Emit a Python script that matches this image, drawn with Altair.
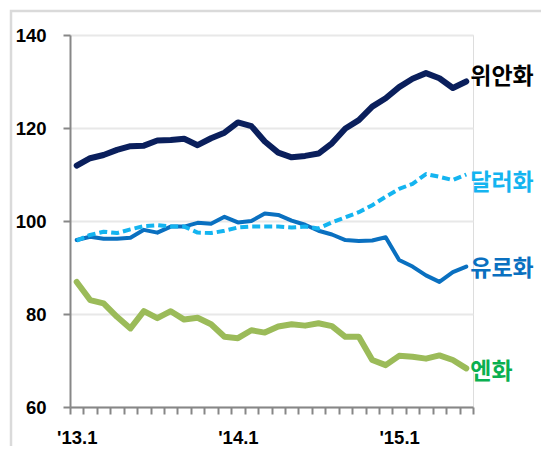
import altair as alt
import pandas as pd

months = ["'13.1", "'13.2", "'13.3", "'13.4", "'13.5", "'13.6", "'13.7", "'13.8", "'13.9", "'13.10", "'13.11", "'13.12",
          "'14.1", "'14.2", "'14.3", "'14.4", "'14.5", "'14.6", "'14.7", "'14.8", "'14.9", "'14.10", "'14.11", "'14.12",
          "'15.1", "'15.2", "'15.3", "'15.4", "'15.5", "'15.6"]

cny = [111.9, 113.5, 114.2, 115.3, 116.1, 116.2, 117.3, 117.4, 117.7, 116.3, 117.8, 119.0,
       121.2, 120.4, 117.1, 114.7, 113.7, 114.0, 114.5, 116.7, 119.9, 121.7, 124.6, 126.4,
       128.8, 130.6, 131.8, 130.7, 128.6, 130.0]
usd = [95.8, 97.0, 97.7, 97.4, 98.2, 98.9, 99.1, 98.8, 98.8, 97.5, 97.4, 97.9,
       98.6, 98.8, 98.8, 98.8, 98.6, 98.8, 98.4, 99.7, 100.8, 101.9, 103.4, 105.2,
       106.9, 108.0, 110.1, 109.5, 108.8, 110.0]
eur = [95.9, 96.6, 96.2, 96.2, 96.4, 98.1, 97.5, 98.8, 98.8, 99.6, 99.4, 100.9,
       99.7, 100.0, 101.6, 101.3, 100.1, 99.2, 97.9, 97.1, 95.9, 95.7, 95.8, 96.5,
       91.6, 90.2, 88.3, 86.9, 89.0, 90.2]
jpy = [86.9, 83.0, 82.3, 79.4, 76.9, 80.6, 79.1, 80.6, 78.8, 79.2, 77.8, 75.1,
       74.8, 76.5, 76.0, 77.3, 77.8, 77.5, 78.0, 77.4, 75.1, 75.1, 70.1, 69.0,
       71.0, 70.8, 70.4, 71.1, 70.1, 68.3]

names = ["위안화", "달러화", "유로화", "엔화"]
values = [cny, usd, eur, jpy]

df = pd.DataFrame({
    "month": months * 4,
    "series": [n for n in names for _ in months],
    "value": [v for s in values for v in s],
})

NUM_FONT = "Liberation Sans, Arial, sans-serif"
KR_FONT = "Noto Sans CJK KR"

x_enc = alt.X(
    "month:O", sort=months,
    scale=alt.Scale(type="band", paddingInner=0, paddingOuter=0),
    axis=alt.Axis(
        title=None, labelAngle=0, tickBand="extent",
        labelExpr="split(datum.value, '.')[1] == '1' ? datum.value : ''",
        domainColor="#878787", domainWidth=2, tickColor="#878787", tickWidth=2, tickSize=7,
        labelFont=NUM_FONT, labelFontSize=18.5, labelFontWeight="bold", labelColor="black",
        labelPadding=14, labelBaseline="top", grid=False,
    ),
)
y_enc = alt.Y(
    "value:Q",
    scale=alt.Scale(domain=[60, 140], nice=False, zero=False),
    axis=alt.Axis(
        title=None, values=[60, 80, 100, 120, 140],
        domainColor="#878787", domainWidth=2, tickColor="#878787", tickWidth=2, tickSize=7,
        grid=True, gridColor="#E8E8E8", gridWidth=2,
        labelFont=NUM_FONT, labelFontSize=18.5, labelFontWeight="bold", labelColor="black",
        labelPadding=17,
    ),
)

base = alt.Chart(df)

styles = {
    "위안화": dict(color="#0A1F5C", width=6, dash=None, text="#000000", dy=-5),
    "유로화": dict(color="#0A70C0", width=4, dash=None, text="#0A70C0", dy=2),
    "달러화": dict(color="#14B4F0", width=4, dash=[8, 4], text="#14B4F0", dy=8),
    "엔화": dict(color="#9BBB59", width=6, dash=None, text="#0AB050", dy=4),
}

layers = []
frame = alt.Chart(pd.DataFrame({"a": [0]})).mark_rect(
    fill=None, stroke="#DADADA", strokeWidth=2.5
).encode(x=alt.value(-59), y=alt.value(-24), x2=alt.value(800), y2=alt.value(800))
layers.append(frame)

for name in ["위안화", "유로화", "달러화", "엔화"]:
    s = styles[name]
    kw = dict(color=s["color"], strokeWidth=s["width"], strokeJoin="round")
    if s["dash"]:
        kw["strokeDash"] = s["dash"]
        kw["strokeCap"] = "butt"
    else:
        kw["strokeCap"] = "round"
    layers.append(
        base.transform_filter(alt.datum.series == name).mark_line(**kw).encode(x=x_enc, y=y_enc)
    )

for name in ["위안화", "유로화", "달러화", "엔화"]:
    s = styles[name]
    layers.append(
        base.transform_filter((alt.datum.series == name) & (alt.datum.month == months[-1]))
        .mark_text(align="left", baseline="middle", dx=4, dy=s["dy"], font=KR_FONT,
                   fontSize=23, fontWeight="bold", color=s["text"])
        .encode(x=x_enc, y=y_enc, text="series:N")
    )

chart = alt.layer(*layers).properties(
    width=403, height=372,
    autosize=alt.AutoSizeParams(type="none"),
    padding={"left": 62, "top": 27, "right": 68, "bottom": 39},
).configure_view(stroke=None).configure(background="white")

chart.save("out.html", embed_options={"renderer": "svg", "actions": False})
